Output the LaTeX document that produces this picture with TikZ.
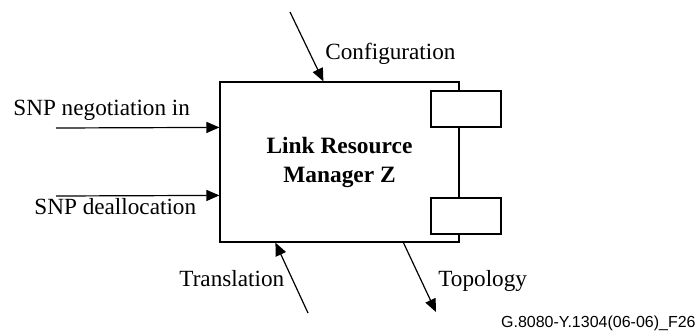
\documentclass[tikz,border=0pt]{standalone}
\usepackage{fontspec}
\setmainfont{Liberation Serif}
\newfontfamily\footfont{Liberation Sans}
\usetikzlibrary{arrows.meta}

\tikzset{
  lrmbox/.style={draw, line width=0.6pt, minimum width=119.5pt, minimum height=80pt, inner sep=0pt, align=center, font=\bfseries\fontsize{11.7}{14.5}\selectfont},
  port/.style={draw, fill=white, line width=0.6pt, minimum width=35pt, minimum height=18pt, inner sep=0pt},
  sig/.style={line width=0.6pt, -{Triangle[length=6.5pt,width=5.5pt]}},
  lbl/.style={inner sep=0pt, anchor=base west, font=\fontsize{11.6}{14}\selectfont}
}

\begin{document}
\begin{tikzpicture}[x=0.5pt, y=-0.5pt]
    \useasboundingbox (0,0) rectangle (699,333);

    \node[lrmbox] (lrm) at (339.5,162) {Link Resource\\Manager Z};
    \foreach \n/\y in {top/109, bot/216} {
      \node[port] (port-\n) at (466,\y) {};
    }

    \coordinate (cfg) at (290,12);
    \coordinate (neg) at (56,128);
    \coordinate (dealloc) at (56,196);
    \coordinate (transl) at (308,313);
    \coordinate (topo) at (436,312);

    \draw[sig] (cfg) -- ([xshift=52pt]lrm.north west);
    \draw[sig] (neg) -- ([yshift=-23pt]lrm.north west);
    \draw[sig] (dealloc) -- ([yshift=-57pt]lrm.north west);
    \draw[sig] (transl) -- ([xshift=28pt]lrm.south west);
    \draw[sig] ([xshift=92pt]lrm.south west) -- (topo);

    \node[lbl] (cfg-lbl) at (325,59) {Configuration};
    \node[lbl] (neg-lbl) at (13,115) {SNP negotiation in};
    \node[lbl] (dealloc-lbl) at (34,214) {SNP deallocation};
    \node[lbl] (transl-lbl) at (179,286) {Translation};
    \node[lbl] (topo-lbl) at (438,286) {Topology};

    \node[inner sep=0pt, anchor=base east, font=\footfont\fontsize{8}{10}\selectfont] (fig-id) at (696,327) {G.8080-Y.1304(06-06)\_F26};
\end{tikzpicture}
\end{document}
